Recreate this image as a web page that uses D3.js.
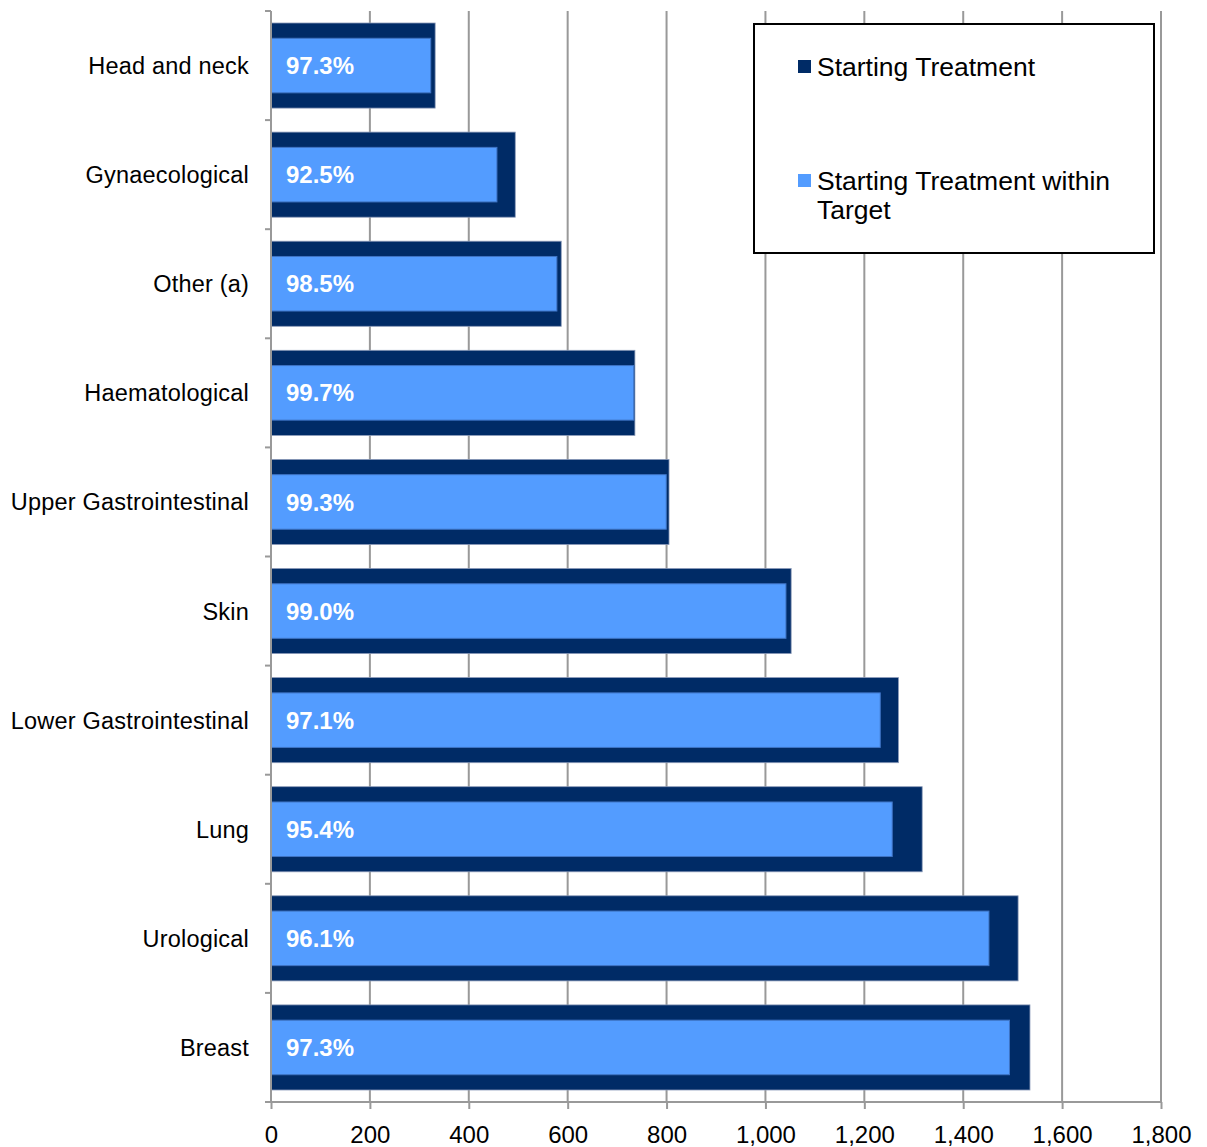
<!DOCTYPE html>
<html>
<head>
<meta charset="utf-8">
<script src="https://cdn.jsdelivr.net/npm/d3@7/dist/d3.min.js"></script>
<style>
  html, body { margin: 0; padding: 0; background: #fff; }
  svg { display: block; font-family: "Liberation Sans", Arial, sans-serif; }
</style>
</head>
<body>
<svg id="chart" width="1207" height="1147"></svg>
<script>
// Cancer types, top to bottom
const categories = [
  "Head and neck", "Gynaecological", "Other (a)", "Haematological",
  "Upper Gastrointestinal", "Skin", "Lower Gastrointestinal", "Lung",
  "Urological", "Breast"
];
// Patients starting treatment
const startingTreatment = [332, 494, 587, 736, 805, 1052, 1269, 1317, 1511, 1535];
// Share starting treatment within target (%)
const withinTargetPct = [97.3, 92.5, 98.5, 99.7, 99.3, 99.0, 97.1, 95.4, 96.1, 97.3];
// Patients starting within target, from the share above
const withinTarget = startingTreatment.map((v, i) => v * withinTargetPct[i] / 100);

const xTicks = [0, 200, 400, 600, 800, 1000, 1200, 1400, 1600, 1800];
const seriesNames = ["Starting Treatment", "Starting Treatment within Target"];

const dark = "#002b66";
const light = "#539cff";
const gridCol = "#999999";

const svg = d3.select("#chart");
const plot = { left: 271, right: 1161, top: 11, bottom: 1102 };

const x = d3.scaleLinear().domain([0, 1800]).range([plot.left, plot.right]);
const y = d3.scaleBand().domain(categories).range([plot.top, plot.bottom]);

// vertical gridlines
svg.append("g").selectAll("line")
  .data(xTicks.slice(1))
  .join("line")
  .attr("x1", d => x(d)).attr("x2", d => x(d))
  .attr("y1", plot.top).attr("y2", plot.bottom)
  .attr("stroke", gridCol).attr("stroke-width", 2);

// bars
const bw = y.bandwidth();
const outerH = bw * 0.78, innerH = bw * 0.5;
const bars = svg.append("g");
bars.selectAll("rect.outer")
  .data(categories)
  .join("rect")
  .attr("class", "outer")
  .attr("x", x(0))
  .attr("y", d => y(d) + (bw - outerH) / 2)
  .attr("width", (d, i) => x(startingTreatment[i]) - x(0))
  .attr("height", outerH)
  .attr("fill", dark)
  .attr("stroke", "#8a9ab8").attr("stroke-width", 0.8);
bars.selectAll("rect.inner")
  .data(categories)
  .join("rect")
  .attr("class", "inner")
  .attr("x", x(0))
  .attr("y", d => y(d) + (bw - innerH) / 2)
  .attr("width", (d, i) => x(withinTarget[i]) - x(0))
  .attr("height", innerH)
  .attr("fill", light)
  .attr("stroke", "#3f74c4").attr("stroke-width", 1);

// percentage labels
bars.selectAll("text")
  .data(categories)
  .join("text")
  .attr("x", x(0) + 15)
  .attr("y", d => y(d) + bw / 2)
  .attr("dy", "0.36em")
  .attr("fill", "#fff")
  .attr("font-weight", "bold")
  .attr("font-size", 24)
  .text((d, i) => withinTargetPct[i].toFixed(1) + "%");

// left axis
const yAxis = svg.append("g");
yAxis.append("line")
  .attr("x1", plot.left).attr("x2", plot.left)
  .attr("y1", plot.top).attr("y2", plot.bottom)
  .attr("stroke", gridCol).attr("stroke-width", 2);
const bounds = categories.map(c => y(c)).concat([plot.bottom]);
yAxis.selectAll("line.tick")
  .data(bounds)
  .join("line")
  .attr("class", "tick")
  .attr("x1", plot.left - 6).attr("x2", plot.left)
  .attr("y1", d => d).attr("y2", d => d)
  .attr("stroke", gridCol).attr("stroke-width", 2);
yAxis.selectAll("text")
  .data(categories)
  .join("text")
  .attr("x", 249)
  .attr("y", d => y(d) + bw / 2)
  .attr("dy", "0.36em")
  .attr("text-anchor", "end")
  .attr("font-size", 23.5)
  .attr("letter-spacing", 0.2)
  .attr("fill", "#000")
  .text(d => d);

// bottom axis
const xAxis = svg.append("g")
  .attr("transform", `translate(0,${plot.bottom})`)
  .call(d3.axisBottom(x).tickValues(xTicks).tickSize(7).tickPadding(17)
    .tickFormat(d3.format(",")));
xAxis.select(".domain").attr("stroke", gridCol).attr("stroke-width", 2)
  .attr("d", `M${plot.left - 6},0H${plot.right}`);
xAxis.selectAll(".tick line").attr("stroke", gridCol).attr("stroke-width", 2);
xAxis.selectAll(".tick text")
  .attr("font-size", 24)
  .attr("font-family", "Liberation Sans, Arial, sans-serif")
  .attr("fill", "#000");

// legend
const lg = svg.append("g");
lg.append("rect")
  .attr("x", 754).attr("y", 24).attr("width", 400).attr("height", 229)
  .attr("fill", "#fff").attr("stroke", "#000").attr("stroke-width", 2);
const legendItems = [
  { color: dark, lines: [seriesNames[0]], y: 76 },
  { color: light, lines: ["Starting Treatment within", "Target"], y: 190 }
];
legendItems.forEach(it => {
  lg.append("rect")
    .attr("x", 798).attr("y", it.y - 16).attr("width", 13).attr("height", 13)
    .attr("fill", it.color);
  const t = lg.append("text")
    .attr("x", 817).attr("y", it.y)
    .attr("font-size", 26.5)
    .attr("fill", "#000");
  it.lines.forEach((l, k) => {
    t.append("tspan").attr("x", 817).attr("dy", k === 0 ? 0 : 29).text(l);
  });
});
</script>
</body>
</html>
